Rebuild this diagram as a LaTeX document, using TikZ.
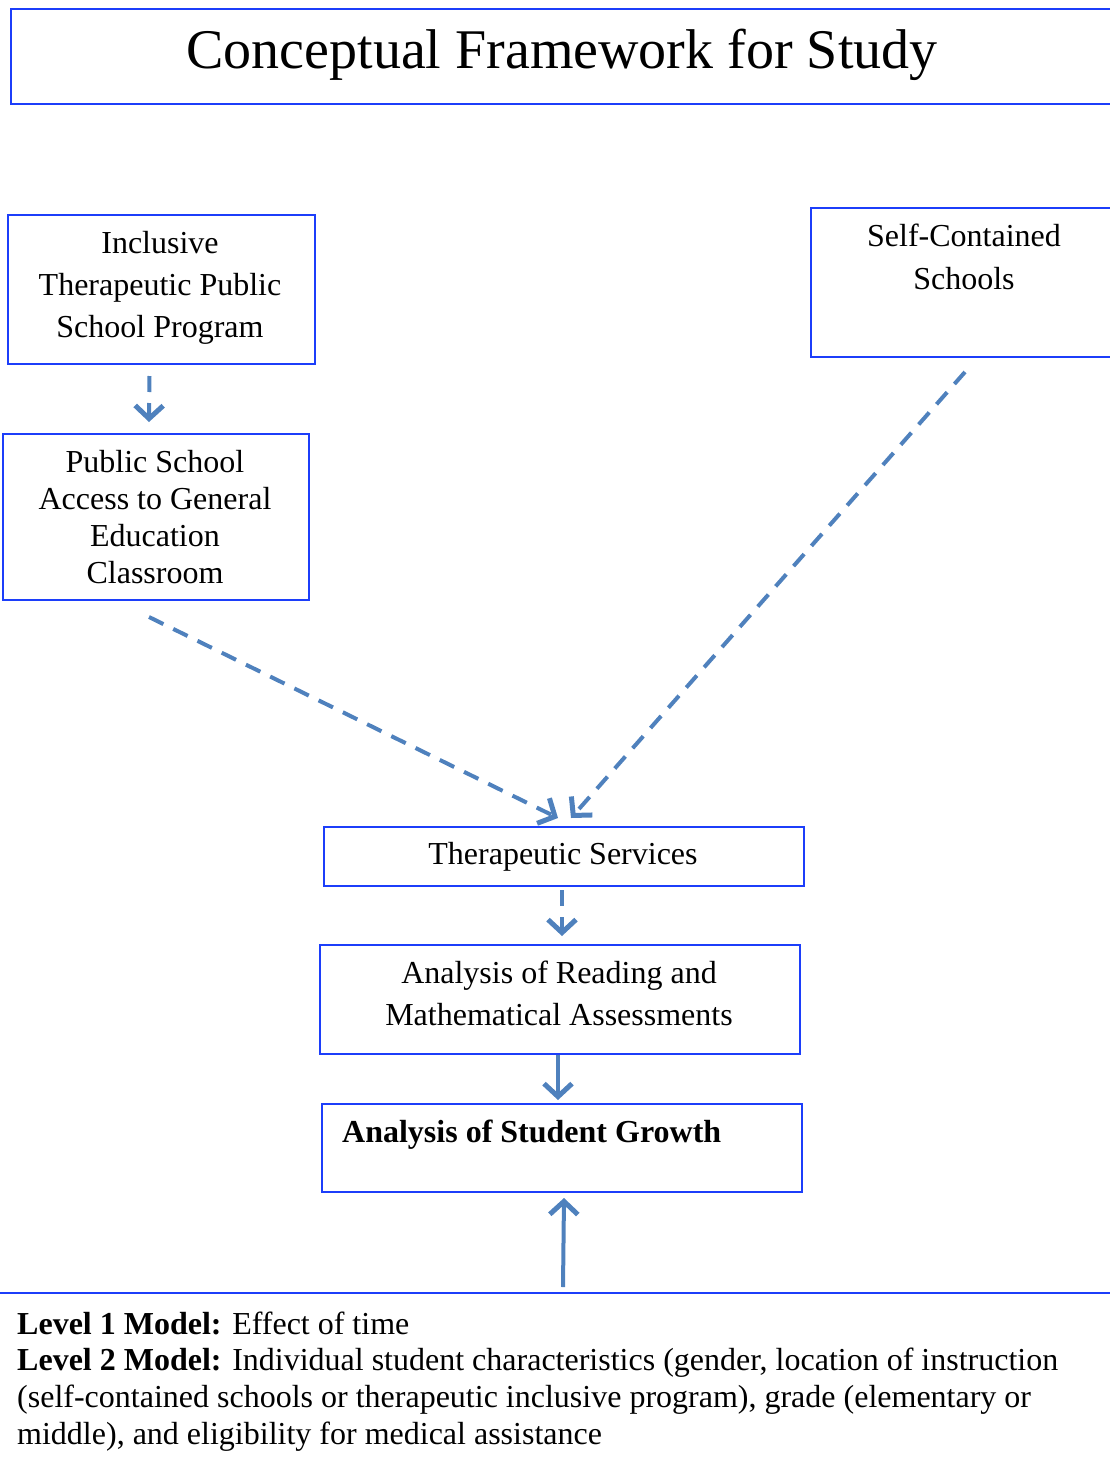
\documentclass[tikz,border=0pt]{standalone}
\usepackage{fontspec}
\setmainfont{Liberation Serif}
\usetikzlibrary{arrows.meta}
\definecolor{boxblue}{RGB}{28,62,250}
\definecolor{arrowblue}{RGB}{79,129,189}
\tikzset{
  frame/.style={draw=boxblue, line width=2pt, rectangle, anchor=north west, inner sep=0pt},
  lbl/.style={anchor=base, align=center, inner sep=0pt, font=\fontsize{32}{42}\selectfont},
  conn/.style={draw=arrowblue, line width=4pt, -{Straight Barb[length=13pt,width=28pt,line width=5pt]}},
  dashconn/.style={conn, dash pattern=on 16pt off 11pt},
}
\begin{document}
\begin{tikzpicture}[x=1pt,y=-1pt]
\useasboundingbox (0,0) rectangle (1110,1457);
% boxes
\node[frame, minimum width=1130pt, minimum height=95pt] (title) at (10,8) {};
\node[frame, minimum width=307pt, minimum height=149pt] (inc) at (7,214) {};
\node[frame, minimum width=306pt, minimum height=166pt] (pub) at (2,433) {};
\node[frame, minimum width=330pt, minimum height=149pt] (self) at (810,207) {};
\node[frame, minimum width=480pt, minimum height=59pt] (ts) at (323,826) {};
\node[frame, minimum width=480pt, minimum height=109pt] (read) at (319,944) {};
\node[frame, minimum width=480pt, minimum height=88pt] (grow) at (321,1103) {};
% texts (base anchor = baseline of last line)
\node[anchor=base, inner sep=0pt, font=\fontsize{56}{60}\selectfont] (titletext) at (562,68) {Conceptual Framework for Study};
\node[lbl] (inctext) at (160,337) {Inclusive\\Therapeutic Public\\School Program};
\node[lbl, font=\fontsize{32}{37}\selectfont] (pubtext) at (155,583) {Public School\\Access to General\\Education\\Classroom};
\node[lbl, font=\fontsize{32}{43}\selectfont] (selftext) at (964,289) {Self-Contained\\Schools};
\node[lbl] (tstext) at (563,864) {Therapeutic Services};
\node[lbl] (readtext) at (559,1025) {Analysis of Reading and\\Mathematical Assessments};
\node[anchor=base west, inner sep=0pt, font=\fontsize{32}{42}\selectfont\bfseries] (growtext) at (342,1142) {Analysis of Student Growth};
% bottom panel
\coordinate (panelL) at (0,1293);
\coordinate (panelR) at (1110,1293);
\draw[boxblue, line width=2pt] (panelL) -- (panelR);
\coordinate (levelsrc) at (563,1287);
\node[anchor=base west, inner sep=0pt, align=left, font=\fontsize{32}{36.6}\selectfont] (levels) at (17,1444)
{\textbf{Level 1 Model:} Effect of time\\
\textbf{Level 2 Model:} Individual student characteristics (gender, location of instruction\\
(self-contained schools or therapeutic inclusive program), grade (elementary or\\
middle), and eligibility for medical assistance};
% connectors
\draw[dashconn] ([xshift=-12pt,yshift=-11pt]inc.south) -- ([xshift=-7pt,yshift=11pt]pub.north);
\draw[dashconn] ([xshift=-7pt,yshift=-16pt]pub.south) -- ([xshift=-6pt,yshift=8pt]ts.north);
\draw[dashconn] ([xshift=-5pt,yshift=-14pt]self.south west -| 970,0) -- ([xshift=7pt,yshift=8pt]ts.north);
\draw[dashconn] ([xshift=-2pt,yshift=-3pt]ts.south) -- ([xshift=2pt,yshift=8pt]read.north);
\draw[conn] ([xshift=-2pt]read.south) -- ([xshift=-4pt,yshift=3pt]grow.north);
\draw[conn] (levelsrc) -- ([xshift=2pt,yshift=-5pt]grow.south);
\end{tikzpicture}
\end{document}
